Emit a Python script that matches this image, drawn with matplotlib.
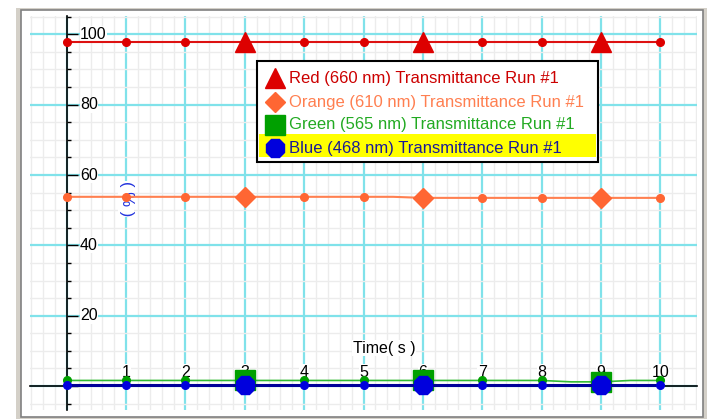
import matplotlib
matplotlib.use("Agg")
import matplotlib.pyplot as plt
from matplotlib.lines import Line2D
from matplotlib.patches import Rectangle
from matplotlib.ticker import MultipleLocator

plt.rcParams['font.family'] = ['Liberation Sans', 'DejaVu Sans']

time_s = [0, 0.5, 1, 1.5, 2, 2.5, 3, 3.5, 4, 4.5, 5, 5.5, 6, 6.5, 7, 7.5, 8, 8.5, 9, 9.5, 10]
red_660 = [97.9, 97.9, 97.9, 97.9, 97.9, 97.9, 97.9, 97.9, 97.9, 97.9, 97.9,
           97.9, 97.9, 97.9, 97.9, 97.9, 97.9, 97.9, 97.9, 97.9, 97.9]
orange_610 = [53.8, 53.8, 53.8, 53.8, 53.8, 53.8, 53.8, 53.8, 53.8, 53.8, 53.8,
              53.8, 53.5, 53.5, 53.5, 53.5, 53.5, 53.5, 53.5, 53.5, 53.5]
green_565 = [1.6, 1.6, 1.6, 1.6, 1.6, 1.6, 1.6, 1.6, 1.6, 1.6, 1.6,
             1.6, 1.6, 1.6, 1.6, 1.6, 1.6, 1.2, 1.2, 1.6, 1.6]
blue_468 = [0.3, 0.3, 0.3, 0.3, 0.3, 0.3, 0.3, 0.3, 0.3, 0.3, 0.3,
            0.3, 0.3, 0.3, 0.3, 0.3, 0.3, 0.3, 0.3, 0.3, 0.3]

dot_times = [0, 1, 2, 4, 5, 7, 8, 10]
big_times = [3, 6, 9]
x_ticks = [1, 2, 3, 4, 5, 6, 7, 8, 9, 10]
y_ticks = [20, 40, 60, 80, 100]

labels = ['Red (660 nm) Transmittance Run #1',
          'Orange (610 nm) Transmittance Run #1',
          'Green (565 nm) Transmittance Run #1',
          'Blue (468 nm) Transmittance Run #1']

W, H = 710, 419
fig = plt.figure(figsize=(W / 100, H / 100), dpi=100, facecolor='white')


def px(x, y):
    # pixel position (top-left origin) -> figure fraction
    return x / W, 1 - y / H


# window-like frame
fig.add_artist(Rectangle(px(16, 419), 691 / W, 411 / H, transform=fig.transFigure,
                         fc='#D4D0C8', ec='none', zorder=-2))
fig.add_artist(Rectangle(px(21, 417), 682 / W, 407 / H, transform=fig.transFigure,
                         fc='white', ec='#808080', lw=1.2, zorder=-1))

ax = fig.add_axes([30 / W, 1 - 410 / H, 667 / W, 394 / H])
ax.set_xlim(-0.62, 10.62)
ax.set_ylim(-6.8, 105.2)

ax.xaxis.set_major_locator(MultipleLocator(1))
ax.xaxis.set_minor_locator(MultipleLocator(0.2))
ax.yaxis.set_major_locator(MultipleLocator(20))
ax.yaxis.set_minor_locator(MultipleLocator(5))
ax.grid(which='minor', color='#ECECEC', lw=1.0)
ax.grid(which='major', color='#80E2EA', lw=1.6)
ax.set_axisbelow(True)

for s in ['top', 'right']:
    ax.spines[s].set_visible(False)
ax.spines['left'].set_position(('data', 0))
ax.spines['bottom'].set_position(('data', 0))
ax.spines['left'].set_linewidth(1.2)
ax.spines['bottom'].set_linewidth(1.2)
ax.tick_params(axis='x', which='both', length=0, labelbottom=False)
ax.tick_params(axis='y', which='major', direction='in', length=8, width=1, labelleft=False)
ax.tick_params(axis='y', which='minor', direction='in', length=3, width=1)

# tick labels drawn by hand so markers can cover them
for v in y_ticks:
    ax.annotate(str(v), (0, v), xytext=(9.5, 0), textcoords='offset points',
                ha='left', va='center', fontsize=11.5, zorder=2.8,
                bbox=dict(fc='white', ec='none', pad=0.4))
for t in x_ticks:
    ax.annotate(str(t), (t, 0), xytext=(0, 10), textcoords='offset points',
                ha='center', va='center', fontsize=11.5, zorder=2.8,
                bbox=dict(fc='white', ec='none', pad=0.2))

ax.text(5.35, 10.8, 'Time( s )', fontsize=11.5, ha='center', va='center', zorder=2.8,
        bbox=dict(fc='white', ec='none', pad=0.5))
ax.text(1.0, 53.2, '( % )', rotation=270, color='#2233DD', fontsize=12,
        ha='center', va='center', zorder=2.8, bbox=dict(fc='white', ec='none', pad=0.3))


def draw(values, line_color, lw, mark_color, marker, size, z):
    ax.plot(time_s, values, color=line_color, lw=lw, zorder=z)
    ax.plot(dot_times, [values[time_s.index(t)] for t in dot_times], 'o',
            ms=5.5, color=mark_color, zorder=z + 0.1)
    ax.plot(big_times, [values[time_s.index(t)] for t in big_times], marker,
            ms=size, color=mark_color, zorder=z + 0.2)


draw(red_660, '#DD1111', 1.5, '#DD0000', '^', 15, 3)
draw(orange_610, '#FF8050', 1.5, '#FF6633', 'D', 10, 3.3)
draw(green_565, '#33BB33', 1.2, '#00A000', 's', 14, 3.6)
draw(blue_468, '#000099', 2.2, '#0000DD', '8', 14, 3.9)

# legend box drawn by hand (last row highlighted)
fig.add_artist(Rectangle(px(257, 162), 341 / W, 101 / H, transform=fig.transFigure,
                         fc='white', ec='black', lw=1.5, zorder=10))
fig.add_artist(Rectangle(px(259, 157), 337 / W, 23 / H, transform=fig.transFigure,
                         fc='#FFFF00', ec='none', zorder=10.1))
rows_y = [78, 102, 125, 148]
leg_markers = ['^', 'D', 's', '8']
leg_sizes = [15, 10, 14, 14]
marker_colors = ['#DD0000', '#FF6633', '#00A000', '#0000DD']
text_colors = ['#CC0000', '#FF7F50', '#22AA22', '#1A1A99']
for yy, lab, m, sz, mc, tc in zip(rows_y, labels, leg_markers, leg_sizes,
                                  marker_colors, text_colors):
    mx, my = px(275, yy)
    fig.add_artist(Line2D([mx], [my], marker=m, ms=sz, color=mc, ls='none',
                          transform=fig.transFigure, zorder=10.3))
    tx, ty = px(289, yy)
    fig.text(tx, ty, lab, color=tc, fontsize=12, ha='left', va='center', zorder=10.4)

fig.savefig('out.png', dpi=100, facecolor='white')
